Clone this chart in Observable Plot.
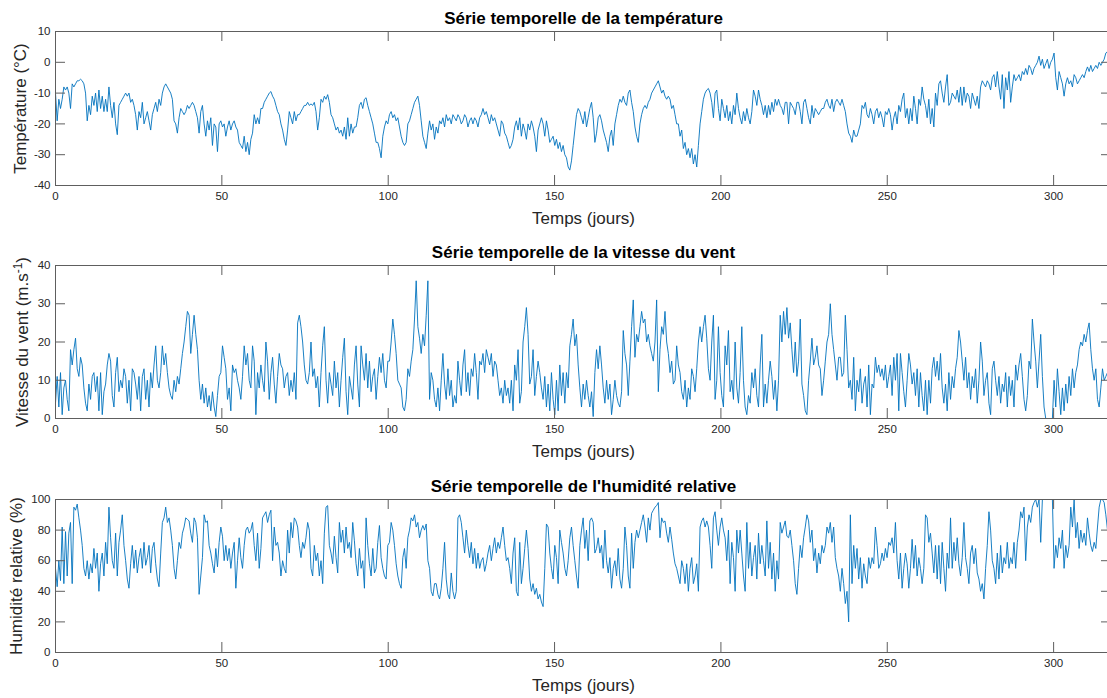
<!DOCTYPE html>
<html><head><meta charset="utf-8">
<script src="https://cdn.jsdelivr.net/npm/d3@7"></script>
<script src="https://cdn.jsdelivr.net/npm/@observablehq/plot@0.6"></script>
<style>
html,body{margin:0;padding:0;background:#fff;overflow:hidden;}
#chart{width:1120px;}
#chart svg{display:block;max-width:none !important;height:auto;}
</style></head><body><div id="chart"></div>
<script>
// Time axis: samples are evenly spaced over the recording period (days)
const spanDays = 316.2;
const xTicks = [0, 50, 100, 150, 200, 250, 300];
const tempTicks = [-40, -30, -20, -10, 0, 10];
const windTicks = [0, 10, 20, 30, 40];
const humTicks = [0, 20, 40, 60, 80, 100];

const titles = ["Série temporelle de la température", "Série temporelle de la vitesse du vent", "Série temporelle de l'humidité relative"];
const yLabels = ["Température (°C)", "Vitesse du vent (m.s-1)", "Humidité relative (%)"];
const xLabel = "Temps (jours)";

// Temperature (°C), one value every half day
const temperature = [
-10,-19,-12,-15,-12,-8,-9,-8,-10,-15,
-7,-8,-7,-6,-6,-5.5,-6,-7,-10,-19,
-14,-17,-11,-14,-10,-16,-9,-15,-11,-16,
-12,-16,-8,-14,-18,-13,-20,-23.5,-14,-13,
-12,-11,-10,-11,-10,-13,-12,-14,-17,-22,
-16,-18,-13,-20,-18,-16,-19,-22,-17,-15,
-13,-16,-12,-14,-10,-8,-7,-8,-9,-10,
-12,-19,-20,-23,-18,-15,-16,-17,-16,-14,
-15,-14,-13,-14,-16,-18,-23,-16,-14,-20,
-24,-19,-22,-18,-27,-20,-21,-29,-20,-19,
-21,-20,-24,-21,-19,-22,-20,-19,-21,-22,
-26,-27,-28,-24,-29,-26,-30,-25,-23,-17,
-20,-18,-20,-15,-15,-13,-12,-11,-10,-9.5,
-11,-12,-14,-16,-17,-20,-22,-25,-27,-22,
-16,-18,-20,-16,-19,-17,-17,-16,-15,-14,
-14,-13,-14,-13.5,-14,-13,-16,-22,-18,-12,
-13,-11,-12,-10.5,-13,-17,-18,-20,-22,-21,
-23,-22,-24,-21,-25,-18,-24,-20,-23,-21,
-21,-18,-14,-13,-15,-12,-11.5,-14,-16,-18,
-20,-23,-26,-26,-28,-31,-24,-21,-19,-20,
-17,-16,-18,-17,-19,-18,-21,-24,-26,-27,
-26,-20,-19,-17,-15,-13,-12,-11,-14,-19,
-24,-26,-28,-23,-19,-22,-20,-25,-21,-23,
-19,-20,-18,-21,-17,-19,-18,-20,-17,-18,
-19,-17,-18,-20,-19,-17,-18,-21,-19,-18,
-20,-18,-19,-21,-18,-17,-15,-17,-16,-18,
-20,-17,-19,-18,-20,-22,-24,-19,-20,-23,
-24,-26,-28,-27,-25,-21,-19,-22,-18,-24,
-20,-22,-25,-20,-22,-19,-21,-24,-29,-22,
-20,-18,-20,-24,-19,-22,-26,-25,-24,-27,
-25,-28,-26,-29,-27,-30,-31,-34,-35,-32,
-27,-22,-17,-15,-16,-18,-20,-16,-21,-18,
-15,-13,-18,-26,-23,-18,-17,-19,-22,-24,
-26,-29,-24,-22,-27,-20,-17,-14,-12,-13,
-11,-13,-14,-10,-9,-13,-16,-21,-24,-26,
-20,-17,-15,-14,-15,-13,-12,-10,-9,-8,
-7,-6,-8,-10,-9,-11,-12,-11,-12,-15,
-14,-17,-20,-20,-24,-22,-28,-26,-30,-28,
-31,-28,-33,-30,-34,-27,-20,-16,-12,-10,
-9,-8.5,-10,-13,-18,-10,-9,-15,-19,-12,
-15,-18,-14,-19,-16,-20,-14,-17,-10,-15,
-18,-20,-16,-19,-15,-18,-20,-16,-9,-11,
-14,-9,-12,-14,-17,-14,-18,-14,-17,-13,
-16,-12,-14,-12,-14,-15,-17,-13,-13,-20,
-13,-14,-15,-17,-13,-13,-16,-20,-13,-12,
-15,-18,-20,-14,-18,-15,-16,-17,-16,-15,
-15,-13,-12,-14,-15,-12,-16,-13,-12,-13,
-14,-12,-14,-16,-20,-23,-24,-26,-22,-24,
-24,-22,-20,-14,-15,-13,-17,-18,-15,-17,
-20,-16,-15,-18,-16,-18,-21,-16,-17,-15,
-17,-22,-18,-16,-20,-14,-16,-12,-10,-18,
-15,-20,-15,-19,-11,-15,-20,-12,-14,-8,
-12,-14,-18,-12,-20,-15,-21,-10,-14,-7,
-6,-10,-13,-8,-4,-14,-13,-10,-11,-12,
-9,-13,-8,-14,-8,-13,-10,-11,-15,-10,
-12,-14,-11,-15,-8,-6,-7,-8,-6,-7,
-9,-5,-4,-8,-3,-8,-12,-4,-15,-5,
-9,-3,-13,-8,-4,-6,-5,-4,-6,-3,
-4,-2,-4,-1,-2,-4,-2,-1,0,2,
-1,1,-2,-0.5,1,-2,0,1,3,-5,
-9,-3,-5,-7,-11,-7,-5,-7,-6,-8,
-4,-5,-7,-6,-5,-4,-5,-3,-1.5,-3,
-1,-3,-2,-1,-2,0,-1,0,1,3,
3.5];

// Wind speed (m/s), one value every half day
const windSpeed = [
4,11,3,12,1,8,10,5,2,18,
14,18,21,13,11,16,14,8,4,2,
9,5,11,12,7,11,2,12,1,7,
9,14,17,15,6,3,12,16,7,10,
8,13,11,4,10,2,13,12,9,5,
11,2,11,13,5,10,3,12,8,14,
19,10,8,12,19,14,17,12,8,6,
5,10,7,11,9,13,17,20,24,28,
27,17,22,27,22,18,10,5,9,4,
8,3,6,2,7,3,0.5,6,11,12,
19,16,13,5,8,2,14,12,13,10,
8,5,11,19,14,17,10,8,19,15,
1,12,8,14,10,7,20,15,5,12,
16,9,4,11,17,14,13,8,11,12,
6,10,7,12,5,25,27,24,20,14,
10,9,12,20,11,13,8,11,3,12,
19,24,10,4,12,9,6,15,8,12,
3,10,16,21,7,1,11,8,5,14,
19,9,3,19,14,10,17,8,15,7,
11,13,5,11,16,12,17,10,8,15,
15,20,26,22,17,10,9,8,3,2,
5,13,11,15,18,26,36,24,21,17,
22,19,27,36,5,12,10,5,3,8,
2,10,17,9,5,13,6,10,3,6,
4,15,10,6,14,18,7,12,6,13,
11,17,12,5,15,14,17,12,18,16,
14,17,11,15,14,10,6,8,4,10,
6,8,4,10,2,14,10,18,4,7,
20,24,29,22,9,11,18,6,11,15,
12,8,5,11,3,9,2,12,5,1,
10,2,14,6,12,4,12,8,19,22,
26,19,22,14,8,3,9,5,10,6,
3,7,0.5,12,18,13,19,14,8,4,
10,5,9,1,5,10,6,4,3,7,
23,17,14,6,15,24,31,16,22,20,
24,28,25,26,20,22,19,17,15,20,
31,7,18,24,22,28,20,17,12,15,
9,10,19,14,12,7,5,10,3,8,
5,13,11,7,13,20,24,20,24,27,
21,13,10,20,27,5,10,24,12,6,
3,19,14,23,7,10,5,20,8,4,
12,24,10,3,1,6,4,12,8,13,
6,3,14,22,3,9,4,10,15,11,
5,10,2,10,27,20,28,22,29,21,
25,18,12,20,11,15,26,9,6,2,
1,10,15,21,14,16,19,14,13,6,
10,15,20,22,30,22,18,14,10,16,
16,11,12,27,18,8,10,5,16,2,
10,7,13,4,9,11,3,14,1,9,
8,16,12,14,11,13,10,14,8,11,
14,6,16,10,17,2,17,12,7,3,
10,17,14,9,12,6,13,3,12,6,
2,10,1,10,4,13,16,11,15,10,
17,8,4,9,2,12,5,11,8,13,
16,23,20,15,10,16,8,12,5,11,
8,13,4,10,20,15,6,10,12,4,
1,13,15,10,6,11,4,9,7,12,
3,11,6,10,3,14,10,14,17,11,
5,2,6,15,13,26,20,15,8,15,
22,11,3,0,0,0,0,0,10,3,
13,7,1,8,2,9,4,11,6,13,
8,12,14,18,20,19,22,20,23,25,
18,13,10,13,5,3,8,13,10,11,
12];

// Relative humidity (%), one value every half day
const humidity = [
55,43,60,47,82,45,79,50,78,85,
45,95,93,97,88,80,70,55,50,60,
48,58,52,68,55,65,40,58,65,50,
72,58,95,75,60,55,78,50,72,80,
90,70,60,48,42,58,70,55,67,52,
62,68,55,72,57,62,70,52,68,72,
58,48,43,65,85,88,95,85,88,80,
70,55,48,60,72,68,78,82,88,87,
86,78,72,88,85,75,38,50,62,90,
85,86,70,65,58,52,68,56,72,82,
76,60,70,60,68,55,65,72,42,60,
75,62,55,70,80,82,78,80,85,70,
60,78,55,68,88,90,92,85,90,93,
60,82,70,72,65,50,60,55,52,80,
65,85,75,88,86,82,70,62,72,68,
75,85,80,55,50,70,60,65,50,60,
45,78,95,96,70,65,58,76,62,52,
85,72,80,65,82,68,72,62,85,73,
58,50,68,55,60,42,88,70,58,50,
68,52,55,72,83,62,55,50,48,70,
72,85,80,70,58,50,45,42,62,68,
55,75,80,88,86,90,82,85,75,80,
83,80,84,60,55,40,37,45,45,38,
35,42,55,72,48,38,35,52,40,35,
40,88,90,85,75,65,80,70,62,72,
58,68,55,65,55,60,62,53,58,65,
70,60,68,75,65,72,68,75,82,70,
60,62,55,45,65,75,40,37,72,45,
55,68,80,68,48,40,45,38,42,35,
38,33,30,55,84,82,65,55,48,70,
62,45,80,72,65,55,50,60,75,82,
70,60,50,42,70,80,88,68,80,60,
86,88,85,65,68,75,65,70,55,80,
60,52,62,42,55,60,50,68,48,42,
55,82,70,50,42,78,55,72,80,75,
80,85,90,82,72,88,80,91,93,95,
96,98,75,88,85,86,78,72,82,74,
65,58,55,50,45,60,55,45,58,40,
55,62,45,50,58,40,82,86,88,82,
86,82,70,55,88,92,80,70,82,88,
80,75,60,80,45,72,62,40,80,65,
80,65,50,40,85,55,72,50,62,70,
48,78,58,70,60,50,86,55,72,48,
65,40,60,48,85,78,82,86,76,75,
80,70,60,45,38,55,70,62,75,82,
90,86,72,80,60,68,52,65,58,70,
65,70,82,78,85,72,82,62,55,50,
40,55,45,32,40,20,90,45,70,55,
68,48,62,42,58,50,45,62,55,62,
58,82,70,55,58,65,60,68,62,72,
70,75,65,85,60,48,65,42,55,65,
58,42,55,74,55,70,50,62,55,45,
55,90,88,72,78,65,52,70,48,70,
45,72,55,40,65,55,88,55,72,60,
75,58,50,62,85,62,55,45,65,70,
58,68,52,48,40,45,35,55,70,92,
80,60,55,45,65,48,70,52,62,58,
72,55,62,58,72,55,72,80,92,88,
95,60,82,90,85,95,98,100,95,100,
72,100,100,100,100,100,100,100,55,70,
62,75,68,80,55,70,62,70,95,82,
100,75,85,68,80,72,78,70,88,78,
70,66,72,68,82,95,100,100,98,90,
80];

const lineColor = "#0072BD";
const axisColor = "#5e5e5e";
const textColor = "#262626";
const fontFamily = "'Liberation Sans', Arial, Helvetica, sans-serif";
const W = 1120, ML = 55, MR = 9;

function panel({values, yDomain, yTicks, title, ylabel, height, mt, mb, ylabelDx}) {
  const innerW = W - ML - MR;
  const innerH = height - mt - mb;
  const step = spanDays / (values.length - 1);
  return Plot.plot({
    width: W, height,
    marginLeft: ML, marginRight: MR, marginTop: mt, marginBottom: mb,
    style: {fontFamily, fontSize: "11.5px", color: textColor, background: "#fff", overflow: "visible", maxWidth: "none"},
    x: {domain: [0, 317.4], ticks: xTicks, tickSize: 0, tickPadding: 6, tickFormat: d => String(d), label: null},
    y: {domain: yDomain, ticks: yTicks, tickSize: 0, tickPadding: 5, tickFormat: d => String(d), label: null},
    marks: [
      Plot.line(values, {x: (d, i) => i * step, y: d => d, stroke: lineColor, strokeWidth: 0.9}),
      Plot.ruleX(xTicks, {x: d => d, insetTop: innerH - 10, stroke: axisColor}),
      Plot.ruleX(xTicks, {x: d => d, insetBottom: innerH - 10, stroke: axisColor}),
      Plot.ruleY(yTicks, {y: d => d, insetRight: innerW - 10, stroke: axisColor}),
      Plot.ruleY(yTicks, {y: d => d, insetLeft: innerW - 10, stroke: axisColor}),
      Plot.frame({stroke: axisColor}),
      Plot.text([title], {frameAnchor: "top", dy: -13, lineAnchor: "middle", textAnchor: "middle", fontSize: 17, fontWeight: "bold", fill: "#000"}),
      Plot.text([xLabel], {frameAnchor: "bottom", dy: 33.5, lineAnchor: "middle", textAnchor: "middle", fontSize: 17, fill: textColor}),
      Plot.text([ylabel], {frameAnchor: "left", dx: ylabelDx, rotate: -90, lineAnchor: "middle", textAnchor: "middle", fontSize: 17, fill: textColor})
    ]
  });
}

const chart = document.getElementById("chart");
chart.append(panel({values: temperature, yDomain: [-40, 10], yTicks: tempTicks, title: titles[0], ylabel: yLabels[0], height: 233, mt: 31, mb: 48, ylabelDx: -35}));
chart.append(panel({values: windSpeed, yDomain: [0, 40], yTicks: windTicks, title: titles[1], ylabel: yLabels[1], height: 233, mt: 32, mb: 48, ylabelDx: -33}));
chart.append(panel({values: humidity, yDomain: [0, 100], yTicks: humTicks, title: titles[2], ylabel: yLabels[2], height: 232, mt: 33, mb: 46, ylabelDx: -39}));

// superscript "-1" in the wind-speed unit
chart.querySelectorAll("text").forEach(t => {
  if (t.textContent === yLabels[1]) {
    const target = t.querySelector("tspan") || t;
    target.textContent = "";
    const ns = "http://www.w3.org/2000/svg";
    const a = document.createElementNS(ns, "tspan"); a.textContent = "Vitesse du vent (m.s";
    const b = document.createElementNS(ns, "tspan"); b.textContent = "-1"; b.setAttribute("dy", "-6"); b.setAttribute("font-size", "12");
    const c = document.createElementNS(ns, "tspan"); c.textContent = ")"; c.setAttribute("dy", "6");
    target.append(a, b, c);
  }
});
</script></body></html>
